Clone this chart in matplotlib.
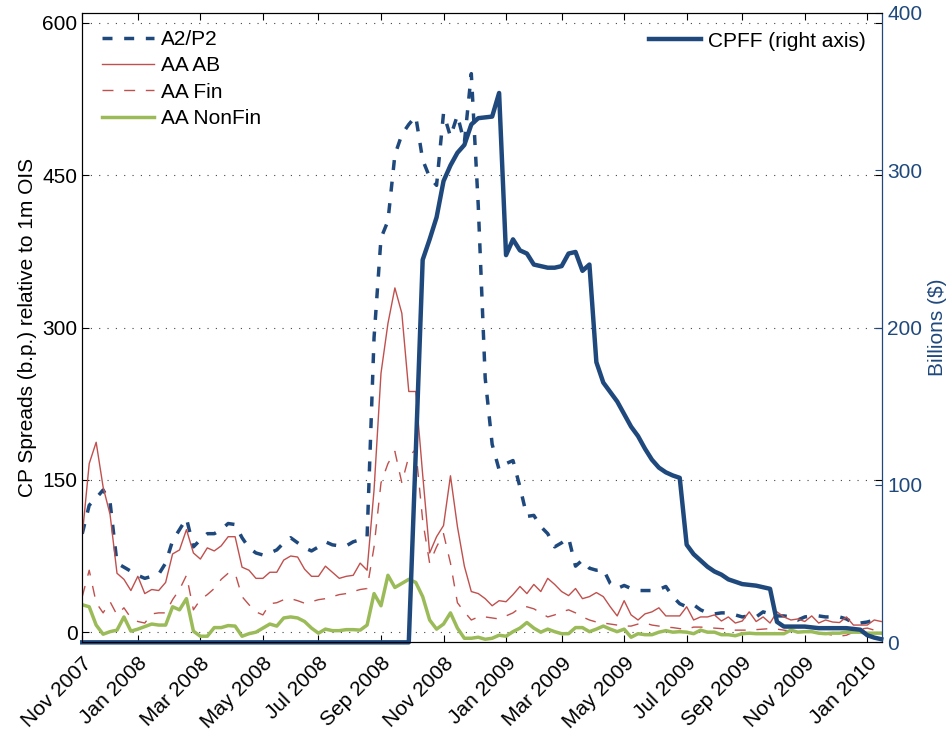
import matplotlib.pyplot as plt
import numpy as np

plt.rcParams['font.family'] = ['Liberation Sans', 'DejaVu Sans']
plt.rcParams['lines.scale_dashes'] = False

# weekly observations, Nov 2007 - Jan 2010
tick_pos = [0, 8, 17, 26, 34, 43, 52, 61, 69, 78, 87, 95, 104, 113]
tick_labels = ['Nov 2007', 'Jan 2008', 'Mar 2008', 'May 2008', 'Jul 2008',
               'Sep 2008', 'Nov 2008', 'Jan 2009', 'Mar 2009', 'May 2009',
               'Jul 2009', 'Sep 2009', 'Nov 2009', 'Jan 2010']

a2p2 = [97, 125, 132, 140, 128, 68, 64, 60, 56, 53,
        55, 57, 68, 90, 101, 112, 84, 91, 97, 97,
        101, 107, 106, 93, 83, 78, 76, 78, 81, 88,
        93, 88, 83, 80, 84, 89, 86, 85, 85, 89,
        91, 94, 290, 388, 405, 470, 490, 500, 508, 465,
        448, 440, 511, 488, 509, 482, 550, 420, 250, 185,
        160, 166, 169, 143, 114, 115, 104, 97, 84, 88,
        93, 65, 71, 63, 61, 62, 48, 43, 46, 43,
        41, 41, 41, 42, 45, 35, 28, 25, 27, 22,
        19, 18, 19, 19, 17, 15, 16, 15, 20, 18,
        16, 16, 15, 12, 15, 16, 16, 15, 15, 15,
        13, 9, 9, 10, 12, 12]

aa_ab = [95, 166, 187, 143, 116, 58, 52, 41, 55, 38,
         42, 41, 49, 77, 81, 101, 78, 72, 83, 80,
         85, 94, 94, 64, 61, 53, 53, 59, 59, 71,
         75, 74, 62, 55, 55, 65, 59, 53, 55, 56,
         68, 61, 140, 255, 304, 339, 314, 237, 237, 155,
         78, 94, 105, 154, 104, 65, 40, 38, 33, 26,
         31, 30, 37, 45, 38, 47, 40, 53, 47, 40,
         36, 43, 33, 35, 39, 35, 25, 16, 31, 17,
         12, 18, 20, 24, 16, 16, 16, 25, 12, 15,
         15, 17, 11, 15, 9, 11, 20, 10.5, 15, 9,
         20, 15, 12, 13, 10.5, 16, 9, 12, 10, 9.5,
         15, 7, 7, 7, 12, 10.5]

aa_fin = [35, 61, 29, 19, 30, 17, 24, 14, 10.5, 9,
          18, 19, 19, 32, 42, 56, 22, 32, 37, 43,
          52, 58, 58, 35, 27, 20, 17, 28, 29, 32,
          33, 31, 28.5, 30, 32, 33, 35, 37, 38, 40,
          42, 43, 84, 147, 166, 178, 147, 173, 180, 110,
          68, 84, 97, 68, 29, 20, 12, 15, 15, 14,
          13, 16, 19, 24, 25, 23, 19, 15, 17, 20,
          22, 19, 15, 12, 10, 9, 8, 7, 6, 6,
          8, 9, 7, 6, 5, 4.5, 3.5, 3, 5, 5,
          4.5, 4, 3.5, 3, 2, 2, 2, 2.5, 3, 3.5,
          3, 2, 1, 0.5, 0.5, 0, -1, -1.5, -3, -4,
          -3, 0, 3, 4, 2, 3]

aa_nonfin = [27, 25, 7, -2, 0.5, 2, 15, 1, 3, 5.5,
             8, 7, 7, 25, 22, 33, 1, -4, -4, 4.5,
             4.5, 6.5, 6, -4, -1.5, 0, 4, 8, 6, 14,
             15, 14, 10.5, 4, -1, 3, 1.5, 1.5, 2.5, 2.5,
             2, 7, 38, 26, 56, 44, 48, 52, 49, 35,
             12, 3, 8, 19, 4, -6, -6, -5, -7, -6,
             -3, -4, 0.5, 4, 9.5, 4, 0, 3, 0.5, -1.5,
             -1.5, 4.5, 4.5, 0.5, 3, 6, 3, 0.5, 3, -5,
             -1.5, -2.5, -2.5, 0, 1.5, 0, 0.5, 0, -1.5, 2,
             0, 0, -2.5, -2.5, -3.5, -1.5, -1, -1.5, -1.5, -1.5,
             -1.5, -1.5, 2, 0, 0.5, 0.5, -1, -1.5, -1, -1,
             0, 0, 0, -1, -1, -1]

cpff = [0] * 48 + [
    120, 243, 256, 270, 293, 303, 311, 316, 329, 333,
    333.5, 334, 349, 246, 256, 249, 247, 240, 239, 238,
    238, 239, 247, 248, 236, 240, 178, 165, 159, 153,
    145, 137, 131, 123, 116, 111, 108, 106, 104.5, 62,
    56, 52, 48, 45, 43, 40, 38.5, 37, 36.5, 36,
    35, 34, 13, 10, 10, 10, 10, 9.5, 9, 9,
    9, 9, 9, 8.5, 8, 4.5, 3, 2]

blue = '#1F497D'
red = '#C0504D'
green = '#9BBB59'

week = np.arange(len(a2p2))

fig = plt.figure(figsize=(9.51, 7.30), dpi=100)
ax = fig.add_axes([0.0865, 0.1201, 0.8412, 0.8625])

ax.plot(week, a2p2, color=blue, lw=2.5, dashes=(7.2, 8.4), label='A2/P2')
ax.plot(week, aa_ab, color=red, lw=1.0, label='AA AB')
ax.plot(week, aa_fin, color=red, lw=1.0, dashes=(7.9, 7.7), label='AA Fin')
ax.plot(week, aa_nonfin, color=green, lw=2.5, label='AA NonFin')

ax.set_xlim(0, 115.15)
ax.set_ylim(-10, 610)
ax.set_yticks([0, 150, 300, 450, 600])
ax.yaxis.grid(True, color='#444444', lw=0.8, linestyle=(0, (0.8, 5.2)))
ax.set_xticks(tick_pos)
ax.set_xticklabels(tick_labels, rotation=45, ha='right', rotation_mode='anchor')
ax.set_ylabel('CP Spreads (b.p.) relative to 1m OIS', fontsize=15)

ax.legend(loc='upper left', bbox_to_anchor=(0.025, 0.9725), frameon=False,
          fontsize=15, handlelength=2.5, handletextpad=0.3,
          labelspacing=0.35, borderpad=0, borderaxespad=0)

# CPFF on the right axis
ax2 = ax.twinx()
ax2.plot(week, cpff, color=blue, lw=3.2, label='CPFF (right axis)', clip_on=False)
ax2.set_ylim(0, 400)
ax2.set_yticks([0, 100, 200, 300, 400])
ax2.tick_params(axis='y', direction='in', colors=blue, labelsize=15, length=5)
ax2.spines['right'].set_color(blue)
ax2.set_ylabel('Billions ($)', color=blue, fontsize=15)
ax2.legend(loc='upper right', bbox_to_anchor=(0.979, 0.97), frameon=False,
           fontsize=15, handlelength=2.5, handletextpad=0.3,
           borderpad=0, borderaxespad=0)

ax.tick_params(direction='in', length=5, width=0.8, labelsize=15,
               top=True, right=True)
ax.tick_params(axis='x', pad=8)

fig.savefig('out.png', dpi=100)
